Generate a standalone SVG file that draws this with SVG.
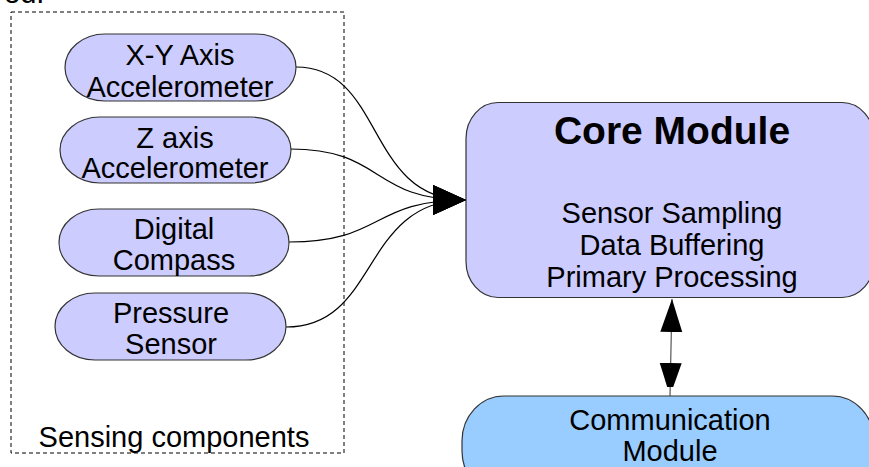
<svg xmlns="http://www.w3.org/2000/svg" width="869" height="467" viewBox="0 0 869 467">
<style>
text{font-family:"Liberation Sans",Arial,sans-serif;font-size:29px;fill:#000;text-anchor:middle}
.sensor{fill:#ccccff;stroke:#333;stroke-width:1.2}
.core{fill:#ccccff;stroke:#333;stroke-width:1.2}
.comm{fill:#99ccff;stroke:#333;stroke-width:1.2}
.edge{fill:none;stroke:#000;stroke-width:1.2}
.bold{font-weight:bold;font-size:39px}
</style>
<defs>
<marker id="ah" markerUnits="userSpaceOnUse" markerWidth="34" markerHeight="31" refX="33" refY="15" orient="auto">
<path d="M0,0 L33,15 L0,30 Z" fill="#000"/>
</marker>
<marker id="ah2" markerUnits="userSpaceOnUse" markerWidth="24" markerHeight="34" refX="33" refY="11" orient="auto">
<path d="M0,0 L33,11 L0,22 Z" fill="#000"/>
</marker>
<marker id="ah2s" markerUnits="userSpaceOnUse" markerWidth="34" markerHeight="24" refX="33" refY="11" orient="auto-start-reverse">
<path d="M0,0 L33,11 L0,22 Z" fill="#000"/>
</marker>
</defs>
<text x="4" y="3" style="text-anchor:start">ed.</text>
<g id="group-sensing">
<rect x="11" y="12" width="333" height="441" fill="none" stroke="#000" stroke-width="1" stroke-dasharray="4,3"/>
<text x="174" y="447">Sensing components</text>
</g>
<g id="connectors">
<path class="edge" d="M296,67 C385,67 365,200 466,200" marker-end="url(#ah)"/>
<path class="edge" d="M290,149 C385,149 370,200 466,200" marker-end="url(#ah)"/>
<path class="edge" d="M289,242 C385,242 370,200 466,200" marker-end="url(#ah)"/>
<path class="edge" d="M286,327 C380,327 360,200 466,200" marker-end="url(#ah)"/>
<path d="M672,299 L670,396" fill="none" stroke="#555" stroke-width="1.2" marker-start="url(#ah2s)" marker-end="url(#ah2)"/>
</g>
<g id="node-xy">
<rect class="sensor" x="65" y="34" width="231" height="67" rx="40" ry="33.5"/>
<text x="180" y="65">X-Y Axis</text>
<text x="180" y="97">Accelerometer</text>
</g>
<g id="node-z">
<rect class="sensor" x="60" y="117" width="231" height="66" rx="40" ry="33"/>
<text x="175" y="148">Z axis</text>
<text x="175" y="178">Accelerometer</text>
</g>
<g id="node-compass">
<rect class="sensor" x="59" y="209" width="230" height="67" rx="40" ry="33.5"/>
<text x="174" y="239">Digital</text>
<text x="174" y="270">Compass</text>
</g>
<g id="node-pressure">
<rect class="sensor" x="55" y="293" width="231" height="67" rx="40" ry="33.5"/>
<text x="171" y="323">Pressure</text>
<text x="171" y="354">Sensor</text>
</g>
<g id="node-core">
<rect class="core" x="466" y="102.5" width="408" height="195" rx="32" ry="36"/>
<text class="bold" x="672" y="144">Core Module</text>
<text x="672" y="223">Sensor Sampling</text>
<text x="672" y="255">Data Buffering</text>
<text x="672" y="287">Primary Processing</text>
</g>
<g id="node-comm">
<rect class="comm" x="462" y="396" width="412" height="100" rx="42" ry="45"/>
<text x="670" y="430">Communication</text>
<text x="670" y="461">Module</text>
</g>
</svg>
